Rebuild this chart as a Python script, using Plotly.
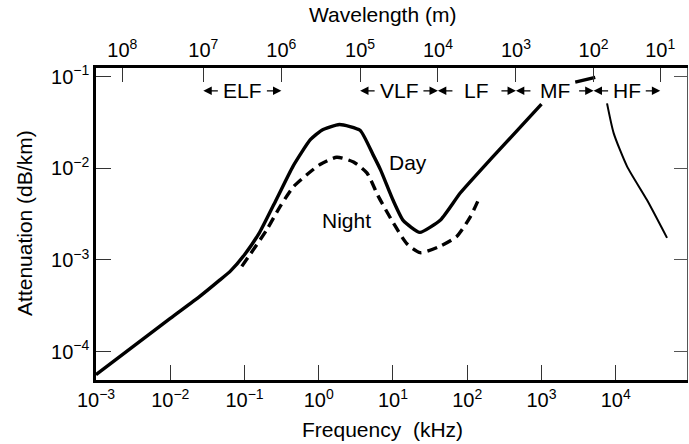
import numpy as np
import plotly.graph_objects as go

# ---------------- data ----------------
day_freq_khz = [0.001, 0.01, 0.025, 0.045, 0.065, 0.1, 0.16, 0.27, 0.45, 0.77, 1.1, 1.9, 3.6,
                5.4, 6.8, 10, 13.7, 23, 44, 81, 224, 1000]
day_atten = [5.6e-5, 2.3e-4, 4.0e-4, 5.9e-4, 7.6e-4, 1.14e-3, 2.0e-3, 4.6e-3, 1.05e-2, 2.05e-2,
             2.6e-2, 3.0e-2, 2.6e-2, 1.4e-2, 9.6e-3, 4.5e-3, 2.7e-3, 2.0e-3, 2.75e-3,
             5.4e-3, 1.35e-2, 5.0e-2]
day_tail_freq_khz = [2850, 5300]
day_tail_atten = [8.7e-2, 9.8e-2]

night_freq_khz = [0.092, 0.20, 0.30, 0.457, 0.69, 1.04, 1.75, 2.94, 4.45, 6.3, 10.2,
                  15.4, 23.3, 43, 72, 110, 147]
night_atten = [8.5e-4, 2.14e-3, 3.8e-3, 6.3e-3, 8.5e-3, 1.1e-2, 1.32e-2, 1.17e-2, 8.9e-3,
               5.0e-3, 2.5e-3, 1.5e-3, 1.2e-3, 1.41e-3, 1.8e-3, 2.95e-3, 4.84e-3]

hf_freq_khz = [7640, 9380, 14200, 26400, 49100]
hf_atten = [5.1e-2, 2.42e-2, 1.05e-2, 4.5e-3, 1.74e-3]

x_tick_vals = [1e-3, 1e-2, 1e-1, 1e0, 1e1, 1e2, 1e3, 1e4]
x_tick_text = ["10<sup>−3</sup>", "10<sup>−2</sup>", "10<sup>−1</sup>", "10<sup>0</sup>",
               "10<sup>1</sup>", "10<sup>2</sup>", "10<sup>3</sup>", "10<sup>4</sup>"]
y_tick_vals = [1e-4, 1e-3, 1e-2, 1e-1]
y_tick_text = ["10<sup>−4</sup>", "10<sup>−3</sup>", "10<sup>−2</sup>", "10<sup>−1</sup>"]

# wavelength ticks (top axis) as placed in the reference, in kHz positions
wl_tick_freq_khz = [2.26e-3, 0.0279, 0.314, 3.61, 40.3, 453, 5035, 39800]
wl_tick_text = ["10<sup>8</sup>", "10<sup>7</sup>", "10<sup>6</sup>", "10<sup>5</sup>",
                "10<sup>4</sup>", "10<sup>3</sup>", "10<sup>2</sup>", "10<sup>1</sup>"]

# bands: (label, start tick index, end tick index) on the wavelength axis
band_labels = ["ELF", "VLF", "LF", "MF", "HF"]
band_start = [1, 3, 4, 5, 6]
band_end = [2, 4, 5, 6, 7]

x_range_log = [-3, 4.96]
y_range_log = [-4.31, -0.906]

FONT = "Liberation Sans, Arial, Helvetica, sans-serif"
tick_font = dict(family=FONT, size=20, color="black")
text_font = dict(family=FONT, size=21, color="black")

fig = go.Figure()

fig.add_trace(go.Scatter(
    x=day_freq_khz, y=day_atten, mode="lines",
    line=dict(color="black", width=3.4, shape="spline", smoothing=0.5),
    showlegend=False, hoverinfo="skip"))
fig.add_trace(go.Scatter(
    x=day_tail_freq_khz, y=day_tail_atten, mode="lines", line=dict(color="black", width=3.4),
    showlegend=False, hoverinfo="skip"))
fig.add_trace(go.Scatter(
    x=night_freq_khz, y=night_atten, mode="lines",
    line=dict(color="black", width=3.4, dash="10px,6px", shape="spline", smoothing=0.6),
    showlegend=False, hoverinfo="skip"))
fig.add_trace(go.Scatter(
    x=hf_freq_khz, y=hf_atten, mode="lines",
    line=dict(color="black", width=2, shape="spline", smoothing=0.6),
    showlegend=False, hoverinfo="skip"))
# invisible traces to activate the top and right axes
fig.add_trace(go.Scatter(x=[wl_tick_freq_khz[0]], y=[1e-3], xaxis="x2", mode="markers",
                         marker=dict(opacity=0), showlegend=False, hoverinfo="skip"))
fig.add_trace(go.Scatter(x=[1], y=[1e-3], yaxis="y2", mode="markers",
                         marker=dict(opacity=0), showlegend=False, hoverinfo="skip"))

fig.update_layout(
    width=689, height=444,
    margin=dict(l=96, r=2, t=68, b=64, autoexpand=False),
    paper_bgcolor="white", plot_bgcolor="white",
    font=dict(family=FONT, size=20, color="black"),
    xaxis=dict(type="log", range=x_range_log, tickvals=x_tick_vals, ticktext=x_tick_text,
               ticks="inside", ticklen=15, tickwidth=1, tickcolor="#333",
               showline=True, linewidth=3, linecolor="black", mirror=False,
               showgrid=False, zeroline=False, tickfont=tick_font, automargin=False),
    xaxis2=dict(type="log", range=x_range_log, overlaying="x", side="top",
                tickvals=wl_tick_freq_khz, ticktext=wl_tick_text,
                ticks="inside", ticklen=14, tickwidth=1, tickcolor="#333",
                showline=True, linewidth=3, linecolor="black",
                showgrid=False, zeroline=False, tickfont=tick_font, automargin=False),
    yaxis=dict(type="log", range=y_range_log, tickvals=y_tick_vals, ticktext=y_tick_text,
               ticks="inside", ticklen=15, tickwidth=1, tickcolor="#333",
               showline=True, linewidth=2.5, linecolor="black",
               showgrid=False, zeroline=False, tickfont=tick_font, automargin=False),
    yaxis2=dict(type="log", range=y_range_log, overlaying="y", side="right",
                tickvals=y_tick_vals, showticklabels=False,
                ticks="inside", ticklen=13, tickwidth=1, tickcolor="#555",
                showline=True, linewidth=1, linecolor="#555",
                showgrid=False, zeroline=False, automargin=False),
)

annotations = []
# axis titles
annotations.append(dict(text="Frequency  (kHz)", xref="paper", yref="paper", x=0.485, y=-0.16,
                        xanchor="center", yanchor="middle", showarrow=False, font=text_font))
annotations.append(dict(text="Wavelength (m)", xref="paper", yref="paper", x=0.484, y=1.171,
                        xanchor="center", yanchor="middle", showarrow=False, font=text_font))
annotations.append(dict(text="Attenuation (dB/km)", xref="paper", yref="paper", x=-0.122, y=0.503,
                        xanchor="center", yanchor="middle", textangle=-90, showarrow=False,
                        font=text_font))
# curve labels
annotations.append(dict(text="Day", x=np.log10(16), y=np.log10(1.15e-2), xref="x", yref="y",
                        showarrow=False, font=text_font))
annotations.append(dict(text="Night", x=np.log10(2.4), y=np.log10(2.7e-3), xref="x", yref="y",
                        showarrow=False, font=text_font))

band_y = 0.927
for lab, s, e in zip(band_labels, band_start, band_end):
    x0 = np.log10(wl_tick_freq_khz[s])
    x1 = np.log10(wl_tick_freq_khz[e])
    annotations.append(dict(text=lab, x=(x0 + x1) / 2, y=band_y, xref="x", yref="paper",
                            showarrow=False, font=text_font, yanchor="middle"))
    annotations.append(dict(text="", x=x0, y=band_y, xref="x", yref="paper", showarrow=True,
                            ax=16, ay=0, arrowhead=2, arrowsize=1.4, arrowwidth=1.2,
                            arrowcolor="black"))
    annotations.append(dict(text="", x=x1, y=band_y, xref="x", yref="paper", showarrow=True,
                            ax=-16, ay=0, arrowhead=2, arrowsize=1.4, arrowwidth=1.2,
                            arrowcolor="black"))

fig.update_layout(annotations=annotations)

fig.write_html("out.html", config={"displayModeBar": False},
               post_script="document.body.style.margin='0';document.body.style.padding='0';")
